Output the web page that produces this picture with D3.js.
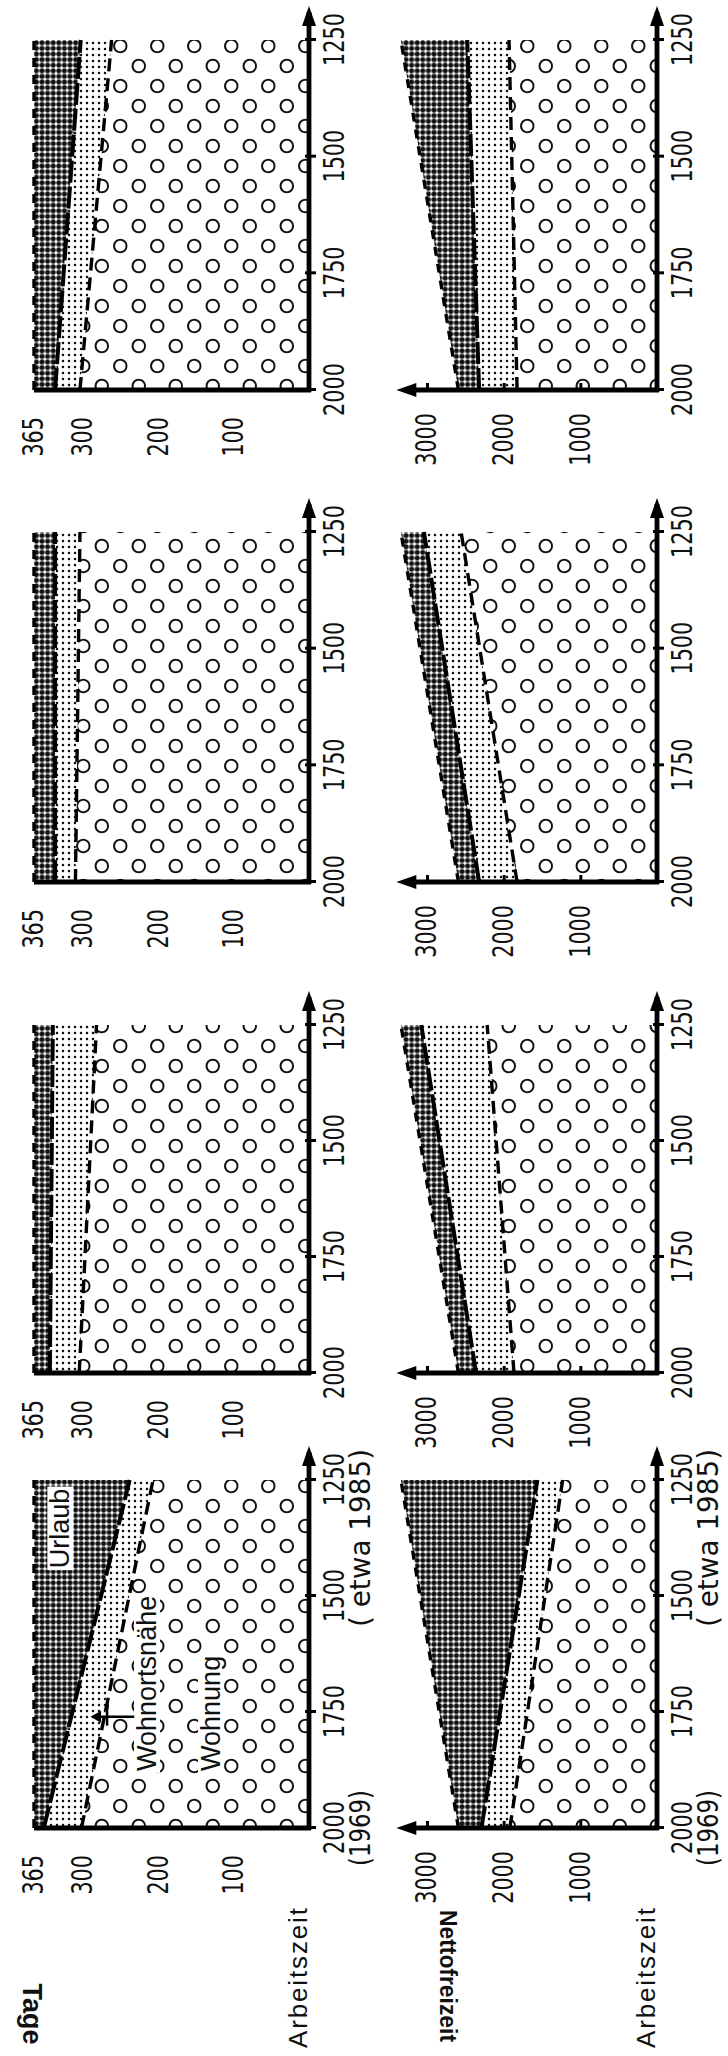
<!DOCTYPE html>
<html><head><meta charset="utf-8">
<script src="https://cdn.jsdelivr.net/npm/d3@7"></script>
<style>
html,body{margin:0;padding:0;background:#fff;}
svg{display:block;background:#fff;}
text{font-family:"Liberation Sans Narrow","DejaVu Sans Condensed","Liberation Sans",sans-serif;fill:#111;}
.lbl{font-family:"Liberation Sans","DejaVu Sans",sans-serif;}
</style></head><body>
<svg id="c" width="728" height="2056"></svg>
<script>
// ---------- data ----------
const hours = [2000, 1250];                 // Arbeitszeit (h/Jahr): 1969 -> etwa 1985
const xTicks = [2000, 1750, 1500, 1250];
const tageTicks = [100, 200, 300, 365];
const nettoTicks = [1000, 2000, 3000];
const bandNames = ["Wohnung", "Wohnortsnähe", "Urlaub"];
// Tage: upper edge of each band at [2000 h, 1250 h], one pair per panel
const tageWohnung = [[302, 207], [305, 282], [310, 304], [304, 262]];
const tageNahe    = [[352, 238], [344, 340], [337, 337], [337, 303]];
const tageTotal   = [365, 365];
// Nettofreizeit (h): upper edge of each band
const nettoWohnung = [[1920, 1230], [1865, 2215], [1825, 2555], [1825, 1930]];
const nettoNahe    = [[2290, 1560], [2360, 3075], [2320, 3040], [2320, 2475]];
const nettoTotal   = [2590, 3340];

// ---------- layout (natural, unrotated figure 2056 x 728) ----------
const W = 2056;
const panelX = [[228, 576], [683, 1031], [1174, 1524], [1666, 2016]];
const svg = d3.select("#c");
const defs = svg.append("defs");

const rings = defs.append("pattern").attr("id", "rings").attr("patternUnits", "userSpaceOnUse")
  .attr("width", 40).attr("height", 37);
rings.append("rect").attr("width", 40).attr("height", 37).attr("fill", "#fff");
[[10, 9.25], [30, 27.75]].forEach(c => rings.append("circle").attr("cx", c[0]).attr("cy", c[1])
  .attr("r", 6.3).attr("fill", "none").attr("stroke", "#111").attr("stroke-width", 1.9));

const light = defs.append("pattern").attr("id", "light").attr("patternUnits", "userSpaceOnUse")
  .attr("width", 6).attr("height", 6);
light.append("rect").attr("width", 6).attr("height", 6).attr("fill", "#fff");
light.append("circle").attr("cx", 3).attr("cy", 3).attr("r", 1.3).attr("fill", "#111");

const dark = defs.append("pattern").attr("id", "dark").attr("patternUnits", "userSpaceOnUse")
  .attr("width", 5.6).attr("height", 5.6);
dark.append("rect").attr("width", 5.6).attr("height", 5.6).attr("fill", "#fff");
dark.append("circle").attr("cx", 2.8).attr("cy", 2.8).attr("r", 2.5).attr("fill", "#111");

const g = svg.append("g").attr("transform", `translate(0,${W}) rotate(-90)`);

const rows = [
  { y: d3.scaleLinear().domain([0, 365]).range([309, 34]), lower: tageWohnung, mid: tageNahe,
    top: tageTotal, ticks: tageTicks, axisTop: 365, pad: 19, arrow: false },
  { y: d3.scaleLinear().domain([0, 3000]).range([657, 427]), lower: nettoWohnung, mid: nettoNahe,
    top: nettoTotal, ticks: nettoTicks, axisTop: 3400, pad: 15, arrow: true }
];
const fills = ["url(#rings)", "url(#light)", "url(#dark)"];
const fmt = d3.format("d");
const DIGIT = 13.2;

rows.forEach((r, ri) => {
  panelX.forEach((px, i) => {
    const x = d3.scaleLinear().domain([2000, 1250]).range(px);
    const y = r.y;
    const data = hours.map((h, k) => ({ h, b: [0, r.lower[i][k], r.mid[i][k], r.top[k]] }));
    const pg = g.append("g");
    // bands
    [0, 1, 2].forEach(b => {
      const area = d3.area().x(d => x(d.h)).y0(d => y(d.b[b])).y1(d => y(d.b[b + 1]));
      pg.append("path").attr("d", area(data)).attr("fill", fills[b]).attr("stroke", "none")
        .attr("data-band", bandNames[b]);
    });
    // boundaries
    [1, 2, 3].forEach(b => {
      const line = d3.line().x(d => x(d.h)).y(d => y(d.b[b]));
      pg.append("path").attr("d", line(data)).attr("fill", "none").attr("stroke", "#000")
        .attr("stroke-width", b === 2 ? 4 : 3.4)
        .attr("stroke-dasharray", b === 1 ? "13 7" : (b === 2 ? "22 4" : "9 8"));
    });
    // x axis
    const y0 = y(0);
    const xa = pg.append("g").attr("transform", `translate(0,${y0})`)
      .call(d3.axisBottom(x).tickValues(xTicks).tickFormat(fmt).tickSize(7).tickPadding(8).tickSizeOuter(0))
      .attr("font-size", 28);
    xa.select(".domain").remove();
    xa.selectAll(".tick line").attr("stroke-width", 3).attr("y1", -4);
    xa.selectAll(".tick text").attr("textLength", d => fmt(d).length * DIGIT).attr("lengthAdjust", "spacingAndGlyphs");
    const xEnd = x(1250) + 34;
    pg.append("line").attr("x1", x(2000) - 2).attr("x2", xEnd - 6).attr("y1", y0).attr("y2", y0)
      .attr("stroke", "#000").attr("stroke-width", 4.8);
    pg.append("path").attr("d", `M${xEnd},${y0}L${xEnd - 20},${y0 - 7}L${xEnd - 20},${y0 + 7}Z`).attr("fill", "#000");
    // y axis
    const x0 = x(2000);
    const ya = pg.append("g").attr("transform", `translate(${x0},0)`)
      .call(d3.axisLeft(y).tickValues(r.ticks).tickFormat(fmt).tickSize(8).tickPadding(r.pad).tickSizeOuter(0))
      .attr("font-size", 28);
    ya.select(".domain").remove();
    ya.selectAll(".tick line").attr("stroke-width", 3).attr("x2", r.arrow ? 7 : 0);
    ya.selectAll(".tick text").attr("textLength", d => fmt(d).length * DIGIT).attr("lengthAdjust", "spacingAndGlyphs");
    const yTop = y(r.axisTop);
    pg.append("line").attr("x1", x0).attr("x2", x0).attr("y1", y0 + 2).attr("y2", r.arrow ? yTop + 8 : yTop)
      .attr("stroke", "#000").attr("stroke-width", 5);
    if (r.arrow) {
      pg.append("path").attr("d", `M${x0},${yTop}L${x0 - 7},${yTop + 20}L${x0 + 7},${yTop + 20}Z`).attr("fill", "#000");
    }
    if (i === 0) {
      pg.append("text").attr("x", x(2000)).attr("y", y0 + 61).attr("text-anchor", "middle")
        .attr("font-size", 28).attr("textLength", 76).attr("lengthAdjust", "spacingAndGlyphs").text("(1969)");
      pg.append("text").attr("x", x(1375)).attr("y", y0 + 61).attr("text-anchor", "middle")
        .attr("font-size", 28).attr("textLength", 178).attr("lengthAdjust", "spacingAndGlyphs").text("( etwa 1985)");
      pg.append("text").attr("class", "lbl").attr("x", 8).attr("y", y0 - 2).attr("font-size", 26)
        .attr("textLength", 140).attr("lengthAdjust", "spacing").text("Arbeitszeit");
    }
  });
});

// titles (upside down in the original)
g.append("text").attr("class", "lbl").attr("transform", "translate(42,32) rotate(180)")
  .attr("text-anchor", "middle").attr("dominant-baseline", "central")
  .attr("font-size", 27).attr("font-weight", "bold").text("Tage");
g.append("text").attr("class", "lbl").attr("transform", "translate(80,448) rotate(180)")
  .attr("text-anchor", "middle").attr("dominant-baseline", "central")
  .attr("font-size", 23).attr("font-weight", "bold").attr("textLength", 132)
  .attr("lengthAdjust", "spacingAndGlyphs").text("Nettofreizeit");

// band labels in the first Tage panel
const xs1 = d3.scaleLinear().domain([2000, 1250]).range(panelX[0]);
const ys1 = rows[0].y;
function label(txt, h, v) {
  const t = g.append("text").attr("class", "lbl").attr("x", xs1(h)).attr("y", ys1(v))
    .attr("dominant-baseline", "central").attr("font-size", 27).text(txt);
  const bb = t.node().getBBox();
  g.insert("rect", () => t.node()).attr("x", bb.x - 2).attr("y", bb.y + 2).attr("width", bb.width + 4)
    .attr("height", bb.height - 4).attr("fill", "#fff");
}
label(bandNames[2], 1440, 330);
label(bandNames[1], 1877, 215);
label(bandNames[0], 1877, 130);
// little arrow from "Wohnortsnähe" up into its band
const ax = xs1(1760);
g.append("line").attr("x1", ax).attr("x2", ax).attr("y1", ys1(232)).attr("y2", ys1(282))
  .attr("stroke", "#000").attr("stroke-width", 2.5);
g.append("path").attr("d", `M${ax},${ys1(290)}L${ax - 6},${ys1(276)}L${ax + 6},${ys1(276)}Z`).attr("fill", "#000");
g.append("line").attr("x1", ax - 9).attr("x2", ax + 9).attr("y1", ys1(268)).attr("y2", ys1(268))
  .attr("stroke", "#000").attr("stroke-width", 2.5);
</script>
</body></html>
